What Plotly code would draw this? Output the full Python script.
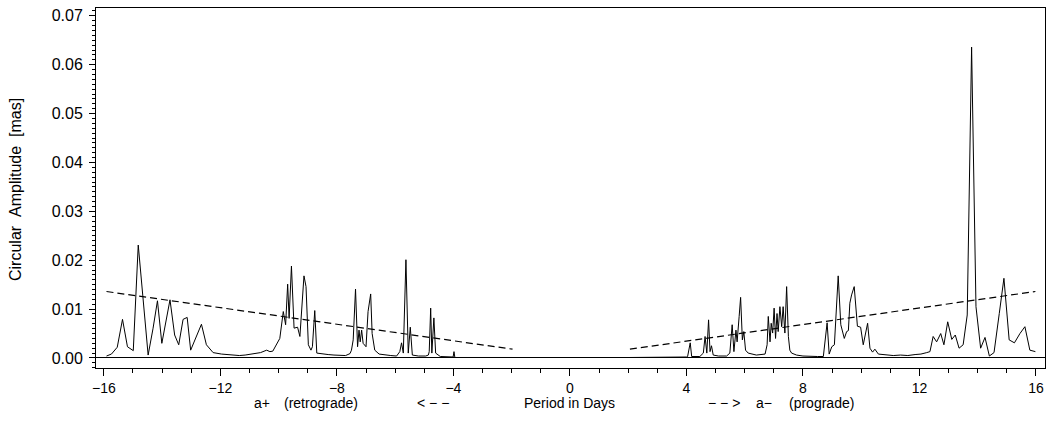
import plotly.graph_objects as go

# ---- data ----
retro_period = [-15.91, -15.74, -15.54, -15.36, -15.19, -14.99, -14.82, -14.65, -14.48, -14.31,
                -14.16, -14.01, -13.87, -13.73, -13.57, -13.43, -13.28, -13.14, -13.02, -12.82,
                -12.65, -12.48, -12.25, -11.96, -11.56, -11.35, -11.15, -10.95, -10.82, -10.62,
                -10.41, -10.30, -10.20, -10.07, -9.96, -9.84, -9.76, -9.69, -9.64, -9.56,
                -9.47, -9.35, -9.27, -9.13, -9.06, -8.98, -8.89, -8.84, -8.76, -8.69,
                -8.50, -8.30, -8.10, -7.90, -7.70, -7.55, -7.50, -7.44, -7.36, -7.29,
                -7.24, -7.20, -7.15, -7.10, -7.00, -6.93, -6.84, -6.79, -6.70, -6.55,
                -6.35, -6.15, -5.95, -5.84, -5.78, -5.72, -5.63, -5.55, -5.48, -5.41,
                -5.20, -4.95, -4.86, -4.83, -4.78, -4.74, -4.67, -4.61, -4.45, -4.20,
                -4.01, -3.98, -3.95, -3.50, -3.00, -2.50, -1.97]
retro_amp = [0.0004, 0.0008, 0.0022, 0.0079, 0.0023, 0.0015, 0.0231, 0.0119, 0.0006, 0.0061,
             0.0117, 0.0030, 0.0078, 0.0119, 0.0047, 0.0027, 0.0079, 0.0083, 0.0016, 0.0044,
             0.0069, 0.0027, 0.0011, 0.0008, 0.0006, 0.0005, 0.0006, 0.0008, 0.0010, 0.0011,
             0.0016, 0.0013, 0.0014, 0.0029, 0.0040, 0.0095, 0.0068, 0.0151, 0.0081, 0.0188,
             0.0061, 0.0063, 0.0044, 0.0168, 0.0146, 0.0027, 0.0016, 0.0023, 0.0097, 0.0010,
             0.0008, 0.0007, 0.0006, 0.0006, 0.0005, 0.0009, 0.0016, 0.0037, 0.0141, 0.0023,
             0.0057, 0.0033, 0.0057, 0.0030, 0.0023, 0.0095, 0.0131, 0.0050, 0.0016, 0.0008,
             0.0006, 0.0005, 0.0004, 0.0013, 0.0031, 0.0010, 0.0201, 0.0010, 0.0063, 0.0006,
             0.0004, 0.0004, 0.0006, 0.0013, 0.0102, 0.0010, 0.0082, 0.0010, 0.0003, 0.0002,
             0.0002, 0.0013, 0.0001, 0.0001, 0.0001, 0.0001, 0.0001]

pro_period = [2.06, 2.50, 3.00, 3.50, 4.00, 4.04, 4.09, 4.13, 4.18, 4.46,
              4.58, 4.64, 4.70, 4.76, 4.81, 4.86, 4.92, 5.10, 5.38, 5.49,
              5.57, 5.63, 5.70, 5.74, 5.81, 5.86, 5.92, 5.97, 6.03, 6.12,
              6.40, 6.70, 6.77, 6.81, 6.87, 6.91, 6.96, 7.01, 7.06, 7.11,
              7.15, 7.21, 7.27, 7.32, 7.38, 7.44, 7.50, 7.55, 7.61, 7.78,
              8.00, 8.24, 8.50, 8.70, 8.76, 8.83, 8.90, 8.99, 9.08, 9.13,
              9.21, 9.30, 9.42, 9.50, 9.56, 9.61, 9.67, 9.76, 9.87, 9.98,
              10.07, 10.22, 10.30, 10.39, 10.47, 10.59, 10.87, 11.10, 11.35, 11.60,
              11.85, 12.05, 12.25, 12.36, 12.47, 12.59, 12.73, 12.84, 12.97, 13.11,
              13.23, 13.36, 13.50, 13.64, 13.79, 13.94, 14.10, 14.25, 14.40, 14.56,
              14.74, 14.90, 15.08, 15.26, 15.45, 15.62, 15.79, 15.98]
pro_amp = [0.0001, 0.0001, 0.0001, 0.0001, 0.0002, 0.0003, 0.0016, 0.0031, 0.0003, 0.0003,
           0.0010, 0.0044, 0.0010, 0.0078, 0.0013, 0.0025, 0.0006, 0.0004, 0.0004, 0.0010,
           0.0068, 0.0013, 0.0057, 0.0033, 0.0085, 0.0124, 0.0037, 0.0054, 0.0016, 0.0010,
           0.0006, 0.0008, 0.0027, 0.0085, 0.0033, 0.0071, 0.0051, 0.0102, 0.0040, 0.0091,
           0.0054, 0.0105, 0.0064, 0.0105, 0.0051, 0.0146, 0.0044, 0.0016, 0.0010, 0.0006,
           0.0004, 0.0003, 0.0003, 0.0003, 0.0037, 0.0072, 0.0008, 0.0023, 0.0027, 0.0078,
           0.0168, 0.0068, 0.0040, 0.0054, 0.0056, 0.0112, 0.0129, 0.0146, 0.0065, 0.0063,
           0.0027, 0.0071, 0.0020, 0.0012, 0.0018, 0.0008, 0.0006, 0.0005, 0.0006, 0.0005,
           0.0007, 0.0008, 0.0011, 0.0013, 0.0044, 0.0033, 0.0050, 0.0027, 0.0074, 0.0038,
           0.0047, 0.0020, 0.0027, 0.0088, 0.0636, 0.0105, 0.0020, 0.0042, 0.0004, 0.0011,
           0.0091, 0.0163, 0.0037, 0.0031, 0.0050, 0.0064, 0.0016, 0.0013]

retro_level_period = [-15.91, -1.97]
retro_level_amp = [0.0136, 0.0018]
pro_level_period = [2.06, 15.98]
pro_level_amp = [0.0018, 0.0136]

x_ticks = [-16, -12, -8, -4, 0, 4, 8, 12, 16]
y_ticks = [0.00, 0.01, 0.02, 0.03, 0.04, 0.05, 0.06, 0.07]

REG = "Liberation Sans, Arial, Helvetica, sans-serif"

fig = go.Figure()
for xs, ys in [(retro_period, retro_amp), (pro_period, pro_amp)]:
    fig.add_trace(go.Scatter(x=xs, y=ys, mode="lines",
                             line=dict(color="black", width=1), showlegend=False,
                             hoverinfo="skip"))
for xs, ys in [(retro_level_period, retro_level_amp), (pro_level_period, pro_level_amp)]:
    fig.add_trace(go.Scatter(x=xs, y=ys, mode="lines",
                             line=dict(color="black", width=1.2, dash="7px,4px"),
                             showlegend=False, hoverinfo="skip"))

fig.update_layout(
    template="none",
    width=1051, height=438,
    margin=dict(l=96, r=6, t=8, b=70, autoexpand=False),
    paper_bgcolor="white", plot_bgcolor="white",
    font=dict(family=REG, color="black", size=14),
    showlegend=False,
)
fig.update_xaxes(
    automargin=False,
    range=[-16.27, 16.31], tickvals=x_ticks, ticks="outside", ticklen=7,
    tickcolor="black", tickwidth=1,
    minor=dict(dtick=1, tick0=0, ticks="outside", ticklen=4, tickcolor="black", showgrid=False),
    showline=True, linecolor="black", linewidth=1, mirror=True,
    showgrid=False, zeroline=False, tickfont=dict(family=REG, size=14, color="black"),
)
fig.update_yaxes(
    automargin=False,
    range=[-0.00205, 0.0716], tickvals=y_ticks, tickformat=".2f",
    ticks="outside", ticklen=6, tickcolor="black", tickwidth=1,
    ticklabelstandoff=3,
    minor=dict(dtick=0.001, tick0=0, ticks="outside", ticklen=3, tickcolor="black", showgrid=False),
    showline=True, linecolor="black", linewidth=1, mirror=True,
    showgrid=False, zeroline=True, zerolinecolor="black", zerolinewidth=1,
    tickfont=dict(family=REG, size=16, color="black"),
)

NB = "\u00a0"
ann = [
    (-10.56, "a+"),
    (-8.55, "(retrograde)"),
    (-4.70, "<" + NB + "\u2212" + NB + "\u2212"),
    (0.0, "Period" + NB + "in" + NB + "Days"),
    (5.29, "\u2212" + NB + "\u2212" + NB + ">"),
    (6.68, "a\u2212"),
    (8.62, "(prograde)"),
]
for xv, txt in ann:
    fig.add_annotation(x=xv, xref="x", y=-0.097, yref="paper", text=txt,
                       showarrow=False, xanchor="center", yanchor="middle",
                       font=dict(family=REG, size=14, color="black"))

fig.add_annotation(x=-81 / 949, xref="paper", y=(368 - 190) / 360, yref="paper",
                   text="Circular" + NB * 2 + "Amplitude" + NB * 2 + "[mas]",
                   textangle=-90, showarrow=False, xanchor="center", yanchor="middle",
                   font=dict(family=REG, size=16, color="black"))

fig.write_html("out.html", config={"displayModeBar": False},
               post_script="document.body.style.margin='0';document.body.style.overflow='hidden';")
